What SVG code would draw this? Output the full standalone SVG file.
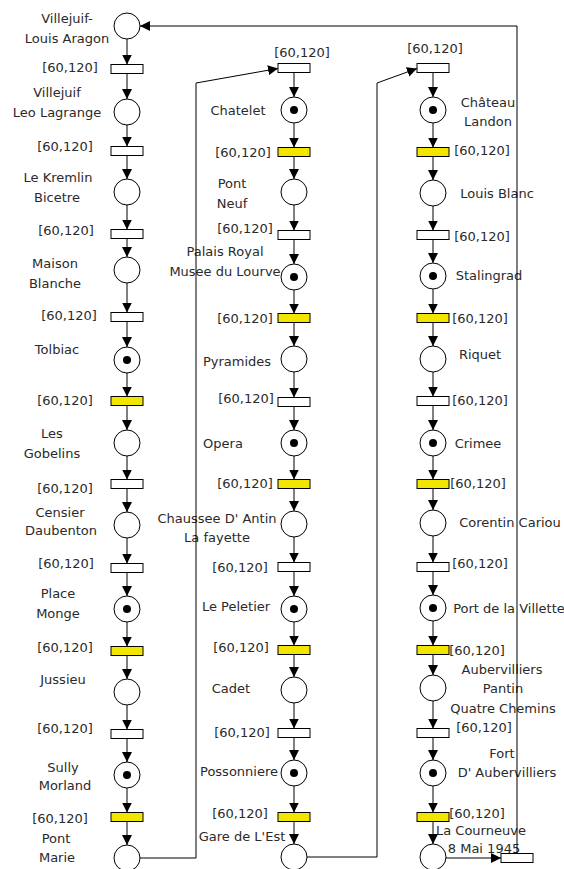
<svg xmlns="http://www.w3.org/2000/svg" width="564" height="869" viewBox="0 0 564 869">
<defs>
<marker id="ah" markerUnits="userSpaceOnUse" markerWidth="10" markerHeight="10" refX="10" refY="5" orient="auto"><path d="M0,0 L10,5 L0,10 z" fill="#000"/></marker>
<style>
.p{fill:#fff;stroke:#000;stroke-width:1}
.t{fill:#fff;stroke:#000;stroke-width:1}
.ty{fill:#f2e600;stroke:#000;stroke-width:1}
.k{fill:#000}
text{font-family:"DejaVu Sans","Liberation Sans",sans-serif;font-size:13px;fill:#2a2a2a;text-anchor:middle}
.c line,.c polyline{stroke:#000;stroke-width:1;fill:none;marker-end:url(#ah)}
</style>
</defs>
<rect width="564" height="869" fill="#fff"/>
<g id="nodes">
<!-- Column 1 -->
<g id="p-villejuif-aragon"><circle class="p" cx="127" cy="26" r="13"/><text x="67" y="23">Villejuif-</text><text x="67" y="43">Louis Aragon</text></g>
<g id="t1-1"><rect class="t" x="111" y="64.5" width="32" height="9"/><text x="70" y="71.5">[60,120]</text></g>
<g id="p-leo-lagrange"><circle class="p" cx="127" cy="112" r="13"/><text x="57" y="97">Villejuif</text><text x="57" y="117">Leo Lagrange</text></g>
<g id="t1-2"><rect class="t" x="111" y="146.5" width="32" height="9"/><text x="65" y="150.5">[60,120]</text></g>
<g id="p-kremlin"><circle class="p" cx="127" cy="192" r="13"/><text x="58" y="181.5">Le Kremlin</text><text x="57" y="201.5">Bicetre</text></g>
<g id="t1-3"><rect class="t" x="111" y="229.5" width="32" height="9"/><text x="66" y="235">[60,120]</text></g>
<g id="p-maison-blanche"><circle class="p" cx="127" cy="270" r="13"/><text x="55" y="268">Maison</text><text x="55" y="288">Blanche</text></g>
<g id="t1-4"><rect class="t" x="111" y="312.5" width="32" height="9"/><text x="69" y="320">[60,120]</text></g>
<g id="p-tolbiac"><circle class="p" cx="127" cy="360" r="13"/><circle class="k" cx="127" cy="360" r="4"/><text x="57" y="354">Tolbiac</text></g>
<g id="t1-5"><rect class="ty" x="111" y="396.5" width="32" height="9"/><text x="65" y="405">[60,120]</text></g>
<g id="p-gobelins"><circle class="p" cx="127" cy="443" r="13"/><text x="52" y="438">Les</text><text x="52" y="458">Gobelins</text></g>
<g id="t1-6"><rect class="t" x="111" y="479.5" width="32" height="9"/><text x="65" y="493">[60,120]</text></g>
<g id="p-censier"><circle class="p" cx="127" cy="525" r="13"/><text x="60" y="517">Censier</text><text x="61" y="535">Daubenton</text></g>
<g id="t1-7"><rect class="t" x="111" y="563.5" width="32" height="9"/><text x="66" y="568">[60,120]</text></g>
<g id="p-place-monge"><circle class="p" cx="127" cy="609" r="13"/><circle class="k" cx="127" cy="609" r="4"/><text x="58" y="598">Place</text><text x="58" y="618">Monge</text></g>
<g id="t1-8"><rect class="ty" x="111" y="646.5" width="32" height="9"/><text x="65" y="652">[60,120]</text></g>
<g id="p-jussieu"><circle class="p" cx="127" cy="692" r="13"/><text x="63" y="684">Jussieu</text></g>
<g id="t1-9"><rect class="t" x="111" y="729.5" width="32" height="9"/><text x="65" y="733">[60,120]</text></g>
<g id="p-sully"><circle class="p" cx="127" cy="775" r="13"/><circle class="k" cx="127" cy="775" r="4"/><text x="63" y="772">Sully</text><text x="65" y="790">Morland</text></g>
<g id="t1-10"><rect class="ty" x="111" y="812.5" width="32" height="9"/><text x="60" y="823">[60,120]</text></g>
<g id="p-pont-marie"><circle class="p" cx="127" cy="858" r="13"/><text x="56" y="843">Pont</text><text x="57" y="862">Marie</text></g>
<!-- Column 2 -->
<g id="t2-0"><rect class="t" x="278" y="63.5" width="32" height="9"/><text x="302" y="57">[60,120]</text></g>
<g id="p-chatelet"><circle class="p" cx="294" cy="110" r="13"/><circle class="k" cx="294" cy="110" r="4"/><text x="238" y="115">Chatelet</text></g>
<g id="t2-1"><rect class="ty" x="278" y="147.5" width="32" height="9"/><text x="243" y="157">[60,120]</text></g>
<g id="p-pont-neuf"><circle class="p" cx="294" cy="192" r="13"/><text x="232" y="188">Pont</text><text x="232" y="208">Neuf</text></g>
<g id="t2-2"><rect class="t" x="278" y="230.5" width="32" height="9"/><text x="245" y="233">[60,120]</text></g>
<g id="p-palais-royal"><circle class="p" cx="294" cy="277" r="13"/><circle class="k" cx="294" cy="277" r="4"/><text x="225" y="256">Palais Royal</text><text x="225" y="276">Musee du Lourve</text></g>
<g id="t2-3"><rect class="ty" x="278" y="313.5" width="32" height="9"/><text x="245" y="323">[60,120]</text></g>
<g id="p-pyramides"><circle class="p" cx="294" cy="359" r="13"/><text x="237" y="366">Pyramides</text></g>
<g id="t2-4"><rect class="t" x="278" y="397.5" width="32" height="9"/><text x="246" y="403">[60,120]</text></g>
<g id="p-opera"><circle class="p" cx="294" cy="443" r="13"/><circle class="k" cx="294" cy="443" r="4"/><text x="223" y="448">Opera</text></g>
<g id="t2-5"><rect class="ty" x="278" y="479.5" width="32" height="9"/><text x="245" y="488">[60,120]</text></g>
<g id="p-chaussee"><circle class="p" cx="294" cy="524" r="13"/><text x="217" y="523">Chaussee D' Antin</text><text x="217" y="542">La fayette</text></g>
<g id="t2-6"><rect class="t" x="278" y="562.5" width="32" height="9"/><text x="240" y="572">[60,120]</text></g>
<g id="p-peletier"><circle class="p" cx="294" cy="609" r="13"/><circle class="k" cx="294" cy="609" r="4"/><text x="236" y="611">Le Peletier</text></g>
<g id="t2-7"><rect class="ty" x="278" y="645.5" width="32" height="9"/><text x="241" y="652">[60,120]</text></g>
<g id="p-cadet"><circle class="p" cx="294" cy="690" r="13"/><text x="231" y="693">Cadet</text></g>
<g id="t2-8"><rect class="t" x="278" y="728.5" width="32" height="9"/><text x="242" y="737">[60,120]</text></g>
<g id="p-possonniere"><circle class="p" cx="294" cy="773" r="13"/><circle class="k" cx="294" cy="773" r="4"/><text x="239" y="776">Possonniere</text></g>
<g id="t2-9"><rect class="ty" x="278" y="812.5" width="32" height="9"/><text x="240" y="818">[60,120]</text></g>
<g id="p-gare-est"><circle class="p" cx="294" cy="857" r="13"/><text x="242" y="841">Gare de L'Est</text></g>
<!-- Column 3 -->
<g id="t3-0"><rect class="t" x="417" y="63.5" width="32" height="9"/><text x="435" y="53">[60,120]</text></g>
<g id="p-chateau-landon"><circle class="p" cx="433" cy="110" r="13"/><circle class="k" cx="433" cy="110" r="4"/><text x="488" y="107">Château</text><text x="488" y="126">Landon</text></g>
<g id="t3-1"><rect class="ty" x="417" y="147.5" width="32" height="9"/><text x="482" y="155">[60,120]</text></g>
<g id="p-louis-blanc"><circle class="p" cx="433" cy="193" r="13"/><text x="497" y="198">Louis Blanc</text></g>
<g id="t3-2"><rect class="t" x="417" y="230.5" width="32" height="9"/><text x="482" y="241">[60,120]</text></g>
<g id="p-stalingrad"><circle class="p" cx="433" cy="276" r="13"/><circle class="k" cx="433" cy="276" r="4"/><text x="489" y="280">Stalingrad</text></g>
<g id="t3-3"><rect class="ty" x="417" y="313.5" width="32" height="9"/><text x="480" y="323">[60,120]</text></g>
<g id="p-riquet"><circle class="p" cx="433" cy="359" r="13"/><text x="480" y="359">Riquet</text></g>
<g id="t3-4"><rect class="t" x="417" y="396.5" width="32" height="9"/><text x="480" y="405">[60,120]</text></g>
<g id="p-crimee"><circle class="p" cx="433" cy="443" r="13"/><circle class="k" cx="433" cy="443" r="4"/><text x="478" y="448">Crimee</text></g>
<g id="t3-5"><rect class="ty" x="417" y="479.5" width="32" height="9"/><text x="478" y="488">[60,120]</text></g>
<g id="p-corentin"><circle class="p" cx="433" cy="523" r="13"/><text x="510" y="527">Corentin Cariou</text></g>
<g id="t3-6"><rect class="t" x="417" y="562.5" width="32" height="9"/><text x="480" y="568">[60,120]</text></g>
<g id="p-port-villette"><circle class="p" cx="433" cy="608" r="13"/><circle class="k" cx="433" cy="608" r="4"/><text x="509" y="613">Port de la Villette</text></g>
<g id="t3-7"><rect class="ty" x="417" y="645.5" width="32" height="9"/><text x="477" y="655">[60,120]</text></g>
<g id="p-aubervilliers"><circle class="p" cx="433" cy="688" r="13"/><text x="502" y="674">Aubervilliers</text><text x="503" y="693">Pantin</text><text x="503" y="713">Quatre Chemins</text></g>
<g id="t3-8"><rect class="t" x="417" y="728.5" width="32" height="9"/><text x="484" y="732">[60,120]</text></g>
<g id="p-fort-aubervilliers"><circle class="p" cx="433" cy="773" r="13"/><circle class="k" cx="433" cy="773" r="4"/><text x="502" y="758">Fort</text><text x="507" y="777">D' Aubervilliers</text></g>
<g id="t3-9"><rect class="ty" x="417" y="812.5" width="32" height="9"/><text x="477" y="818">[60,120]</text></g>
<g id="p-la-courneuve"><circle class="p" cx="433" cy="857" r="13"/><text x="436" y="835" style="text-anchor:start">La Courneuve</text><text x="484" y="853">8 Mai 1945</text></g>
<g id="t3-final"><rect class="t" x="501" y="853.5" width="32" height="9"/></g>
</g>
<g id="connectors" class="c">
<line x1="127" y1="39" x2="127" y2="64.5"/>
<line x1="127" y1="73.5" x2="127" y2="99"/>
<line x1="127" y1="125" x2="127" y2="146.5"/>
<line x1="127" y1="155.5" x2="127" y2="179"/>
<line x1="127" y1="205" x2="127" y2="229.5"/>
<line x1="127" y1="238.5" x2="127" y2="257"/>
<line x1="127" y1="283" x2="127" y2="312.5"/>
<line x1="127" y1="321.5" x2="127" y2="347"/>
<line x1="127" y1="373" x2="127" y2="396.5"/>
<line x1="127" y1="405.5" x2="127" y2="430"/>
<line x1="127" y1="456" x2="127" y2="479.5"/>
<line x1="127" y1="488.5" x2="127" y2="512"/>
<line x1="127" y1="538" x2="127" y2="563.5"/>
<line x1="127" y1="572.5" x2="127" y2="596"/>
<line x1="127" y1="622" x2="127" y2="646.5"/>
<line x1="127" y1="655.5" x2="127" y2="679"/>
<line x1="127" y1="705" x2="127" y2="729.5"/>
<line x1="127" y1="738.5" x2="127" y2="762"/>
<line x1="127" y1="788" x2="127" y2="812.5"/>
<line x1="127" y1="821.5" x2="127" y2="845"/>
<line x1="294" y1="72.5" x2="294" y2="97"/>
<line x1="294" y1="123" x2="294" y2="147.5"/>
<line x1="294" y1="156.5" x2="294" y2="179"/>
<line x1="294" y1="205" x2="294" y2="230.5"/>
<line x1="294" y1="239.5" x2="294" y2="264"/>
<line x1="294" y1="290" x2="294" y2="313.5"/>
<line x1="294" y1="322.5" x2="294" y2="346"/>
<line x1="294" y1="372" x2="294" y2="397.5"/>
<line x1="294" y1="406.5" x2="294" y2="430"/>
<line x1="294" y1="456" x2="294" y2="479.5"/>
<line x1="294" y1="488.5" x2="294" y2="511"/>
<line x1="294" y1="537" x2="294" y2="562.5"/>
<line x1="294" y1="571.5" x2="294" y2="596"/>
<line x1="294" y1="622" x2="294" y2="645.5"/>
<line x1="294" y1="654.5" x2="294" y2="677"/>
<line x1="294" y1="703" x2="294" y2="728.5"/>
<line x1="294" y1="737.5" x2="294" y2="760"/>
<line x1="294" y1="786" x2="294" y2="812.5"/>
<line x1="294" y1="821.5" x2="294" y2="844"/>
<line x1="433" y1="72.5" x2="433" y2="97"/>
<line x1="433" y1="123" x2="433" y2="147.5"/>
<line x1="433" y1="156.5" x2="433" y2="180"/>
<line x1="433" y1="206" x2="433" y2="230.5"/>
<line x1="433" y1="239.5" x2="433" y2="263"/>
<line x1="433" y1="289" x2="433" y2="313.5"/>
<line x1="433" y1="322.5" x2="433" y2="346"/>
<line x1="433" y1="372" x2="433" y2="396.5"/>
<line x1="433" y1="405.5" x2="433" y2="430"/>
<line x1="433" y1="456" x2="433" y2="479.5"/>
<line x1="433" y1="488.5" x2="433" y2="510"/>
<line x1="433" y1="536" x2="433" y2="562.5"/>
<line x1="433" y1="571.5" x2="433" y2="595"/>
<line x1="433" y1="621" x2="433" y2="645.5"/>
<line x1="433" y1="654.5" x2="433" y2="675"/>
<line x1="433" y1="701" x2="433" y2="728.5"/>
<line x1="433" y1="737.5" x2="433" y2="760"/>
<line x1="433" y1="786" x2="433" y2="812.5"/>
<line x1="433" y1="821.5" x2="433" y2="844"/>
<line x1="446" y1="858" x2="501" y2="858"/>
<polyline points="140,858 196,858 196,83 278,68.5"/>
<polyline points="307,857 377,857 377,83 417,68.5"/>
<polyline points="517,853.5 517,26 140,26"/>
</g>
</svg>
